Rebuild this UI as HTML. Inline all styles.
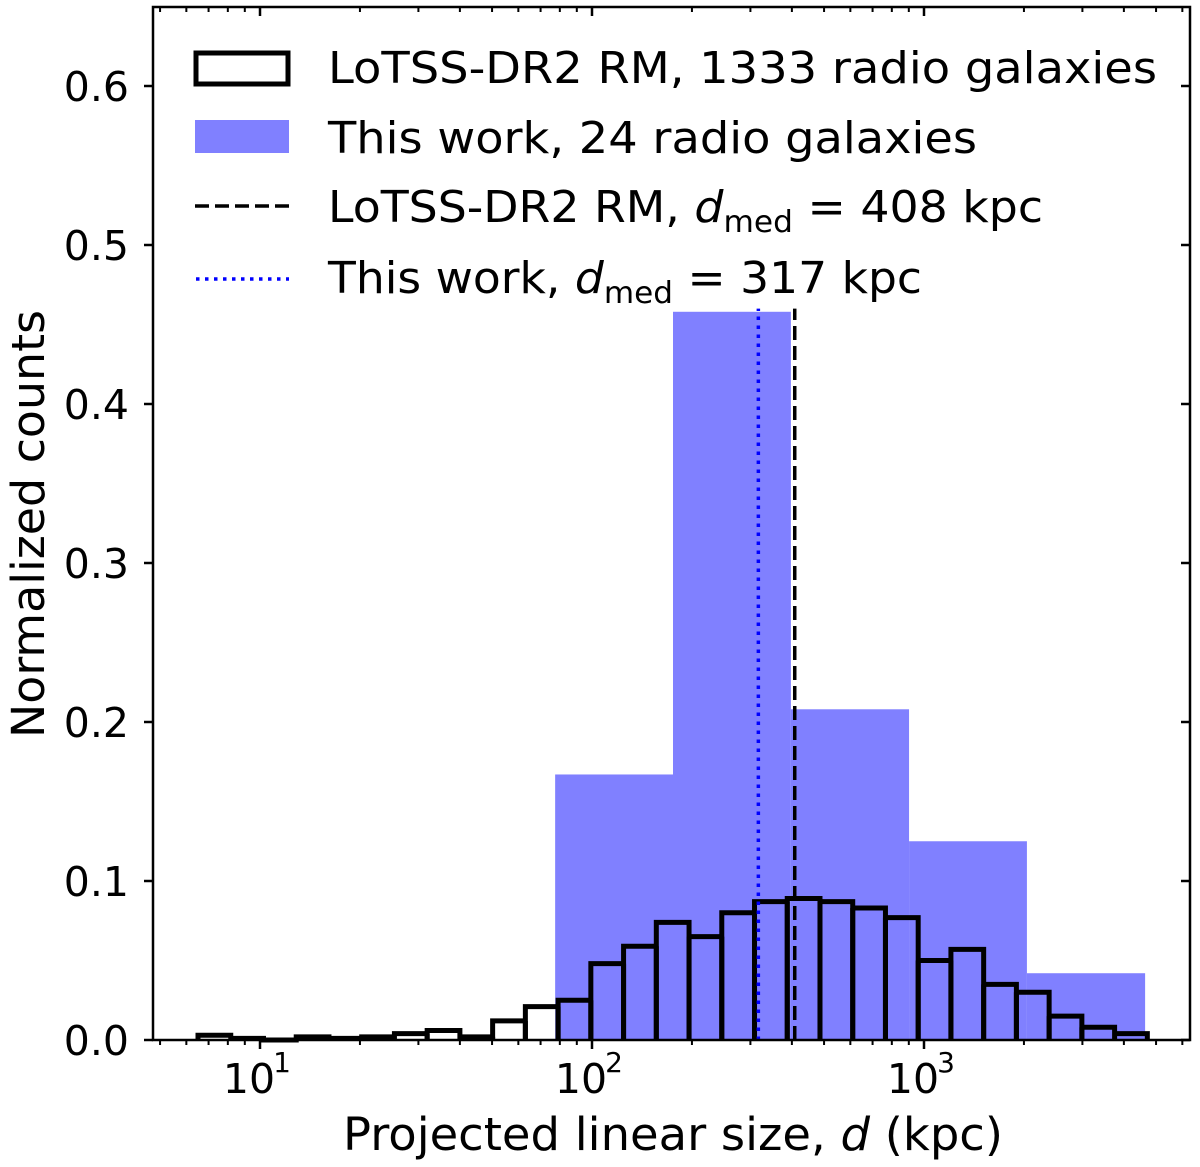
<!DOCTYPE html>
<html><head><meta charset="utf-8">
<style>
html,body{margin:0;padding:0;background:#fff;}
svg{display:block;font-family:"DejaVu Sans","Liberation Sans",sans-serif;}
</style></head>
<body>
<svg id="chart" width="1200" height="1167" viewBox="0 0 1200 1167" xmlns="http://www.w3.org/2000/svg">
<g id="plot"></g>
<g id="axes"></g>
<g id="legend">
  <rect x="196" y="53" width="92" height="31" fill="none" stroke="#000" stroke-width="5"/>
  <text x="328" y="83" font-size="44" textLength="829" lengthAdjust="spacingAndGlyphs">LoTSS-DR2 RM, 1333 radio galaxies</text>
  <rect x="195" y="120" width="94" height="33" fill="#8080ff"/>
  <text x="328" y="153" font-size="44" textLength="649" lengthAdjust="spacingAndGlyphs">This work, 24 radio galaxies</text>
  <line x1="195" y1="206" x2="289" y2="206" stroke="#000" stroke-width="3.5" stroke-dasharray="14,6"/>
  <text x="328" y="222" font-size="44" textLength="715" lengthAdjust="spacingAndGlyphs">LoTSS-DR2 RM, <tspan font-style="italic">d</tspan><tspan font-size="30" dy="10">med</tspan><tspan dy="-10"> = 408 kpc</tspan></text>
  <line x1="196" y1="279" x2="289" y2="279" stroke="#0000ff" stroke-width="3.5" stroke-dasharray="3.5,5.5"/>
  <text x="328" y="293" font-size="44" textLength="594" lengthAdjust="spacingAndGlyphs">This work, <tspan font-style="italic">d</tspan><tspan font-size="30" dy="10">med</tspan><tspan dy="-10"> = 317 kpc</tspan></text>
</g>
</svg>
<script>
// ---- data ----
const blueEdgesLog = [1.889, 2.244, 2.599, 2.955, 3.310, 3.666];
const blueCounts = [0.167, 0.458, 0.208, 0.125, 0.042];
const blackStartLog = 0.8133;
const blackBinWidthLog = 0.0986;
const blackCounts = [0.003,0.001,0.0,0.002,0.001,0.002,0.004,0.006,0.002,0.012,
  0.021,0.025,0.048,0.059,0.074,0.065,0.080,0.087,0.089,0.087,
  0.083,0.077,0.050,0.057,0.035,0.030,0.015,0.008,0.004];
const medianLotss = 408;
const medianThis = 317;
const yTicks = [0.0,0.1,0.2,0.3,0.4,0.5,0.6];
const yTickLabels = ["0.0","0.1","0.2","0.3","0.4","0.5","0.6"];
const xMajorExps = [1,2,3];

// ---- axes ----
const L=153,R=1190,T=7,B=1040;
const xPx = lg => 592 + (lg-2)*332;
const yPx = v => 1040 - v*1590;
const NS="http://www.w3.org/2000/svg";
const plot=document.getElementById('plot'), axes=document.getElementById('axes');
function mk(tag,attrs,parent){const e=document.createElementNS(NS,tag);for(const k in attrs)e.setAttribute(k,attrs[k]);parent.appendChild(e);return e;}

blueCounts.forEach((c,i)=>{
  const x0=xPx(blueEdgesLog[i]), x1=xPx(blueEdgesLog[i+1]);
  const r=mk('rect',{x:x0,y:yPx(c),width:x1-x0,height:B-yPx(c),fill:'#8080ff'},plot);
  
  
});
let d='M'+xPx(blackStartLog)+' '+B;
blackCounts.forEach((c,i)=>{
  const x0=xPx(blackStartLog+i*blackBinWidthLog), x1=xPx(blackStartLog+(i+1)*blackBinWidthLog);
  d+=' L'+x0+' '+yPx(c)+' L'+x1+' '+yPx(c)+' L'+x1+' '+B;
});
blackCounts.forEach((c,i)=>{
  const x0=xPx(blackStartLog+i*blackBinWidthLog);
  if(c>0.004){const l=mk('line',{x1:x0,y1:B,x2:x0,y2:yPx(Math.min(c,blackCounts[i-1]||0)),stroke:'#000','stroke-width':5},plot);
  
  }
});
const hist=mk('path',{d:d,fill:'none',stroke:'#000','stroke-width':5,'stroke-linejoin':'miter'},plot);



const ml=mk('line',{x1:xPx(Math.log10(medianLotss)),x2:xPx(Math.log10(medianLotss)),y1:B,y2:yPx(0.46),stroke:'#000','stroke-width':3.5,'stroke-dasharray':'14,6'},plot);


const mt=mk('line',{x1:xPx(Math.log10(medianThis)),x2:xPx(Math.log10(medianThis)),y1:B,y2:yPx(0.46),stroke:'#0000ff','stroke-width':3.5,'stroke-dasharray':'3.5,5.5'},plot);



const frame=mk('rect',{x:L,y:T,width:R-L,height:B-T,fill:'none',stroke:'#000','stroke-width':2.5},axes);



yTicks.forEach((v,i)=>{
  const y=yPx(v);
  mk('line',{x1:L-9,x2:L,y1:y,y2:y,stroke:'#000','stroke-width':2.5},axes);
  mk('line',{x1:R-9,x2:R,y1:y,y2:y,stroke:'#000','stroke-width':2.5},axes);
  const t=mk('text',{x:L-24,y:y+15,'font-size':41,'text-anchor':'end'},axes);
  t.textContent=yTickLabels[i];
  
  
});
for(let e=0;e<=3;e++){for(let m=1;m<=9;m++){
  const lg=e+Math.log10(m), x=xPx(lg);
  if(x<L||x>R) continue;
  const major=m===1;
  mk('line',{x1:x,x2:x,y1:B,y2:B+(major?9:5),stroke:'#000','stroke-width':major?2.5:2},axes);
  mk('line',{x1:x,x2:x,y1:T,y2:T+(major?9:5),stroke:'#000','stroke-width':major?2.5:2},axes);
}}
xMajorExps.forEach(e=>{
  const t=mk('text',{x:xPx(e)-11,y:1093,'font-size':41,'text-anchor':'middle'},axes);
  t.textContent='10';
  
  
  const s=mk('text',{x:xPx(e)+22,y:1072,'font-size':28,'text-anchor':'middle'},axes);
  s.textContent=String(e);
  
  
});
const xt=mk('text',{x:343,y:1150,'font-size':45,textLength:660,lengthAdjust:'spacingAndGlyphs'},axes);
xt.innerHTML='Projected linear size, <tspan font-style="italic">d</tspan> (kpc)';


const yt=mk('text',{x:0,y:0,'font-size':45,'text-anchor':'start',textLength:428,lengthAdjust:'spacingAndGlyphs',transform:'translate(44,738) rotate(-90)'},axes);
yt.textContent='Normalized counts';


</script>
</body></html>
